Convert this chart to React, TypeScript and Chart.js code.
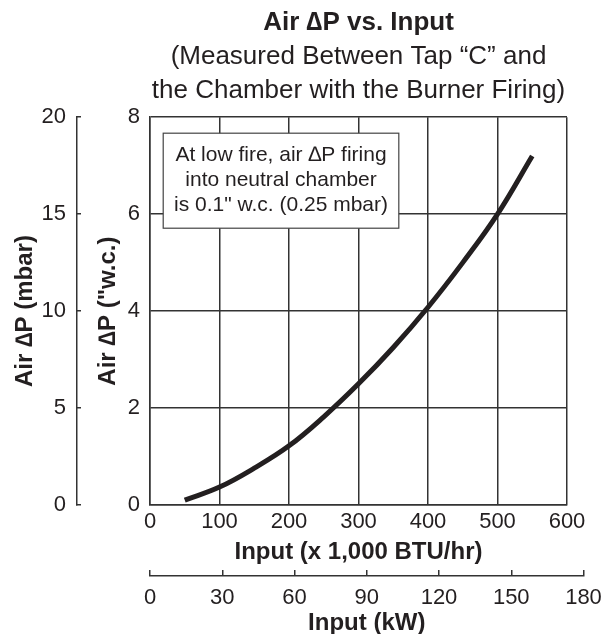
import React, { useEffect, useRef } from "react";
import { Chart, registerables } from "chart.js";

Chart.register(...registerables);

// ---------- data ----------
const inputBtu = [50, 100, 150, 200, 250, 300, 350, 400, 450, 500, 550];
const airDpWc = [0.1, 0.37, 0.76, 1.22, 1.82, 2.5, 3.25, 4.08, 5.0, 6.0, 7.2];

const btuTicks = [0, 100, 200, 300, 400, 500, 600];
const wcTicks = [0, 2, 4, 6, 8];
const mbarTicks = [0, 5, 10, 15, 20];
const kwTicks = [0, 30, 60, 90, 120, 150, 180];

const titleMain = "Air \u2206P vs. Input";
const titleSub = ["(Measured Between Tap \u201CC\u201D and", "the Chamber with the Burner Firing)"];
const xTitle = "Input (x 1,000 BTU/hr)";
const kwTitle = "Input (kW)";
const wcTitle = "Air \u2206P (\"w.c.)";
const mbarTitle = "Air \u2206P (mbar)";
const noteLines = ["At low fire, air \u2206P firing", "into neutral chamber", "is 0.1\" w.c. (0.25 mbar)"];

// ---------- style ----------
const FONT = "'Liberation Sans', Arial, Helvetica, sans-serif";
const INK = "#231f20";
const GRID = "#333333";
const GRID_W = 1.5;

const NOTE_BOX = { x0: 19, x1: 358, y0: 5.71, y1: 7.67 };

const setTicks = (vals: number[]) => (s: any) => {
  s.ticks = vals.map((v) => ({ value: v }));
};

const noteBoxPlugin = {
  id: "noteBox",
  beforeDatasetsDraw(chart: any) {
    const { ctx } = chart;
    const x = chart.scales.x;
    const y = chart.scales.y;
    const l = x.getPixelForValue(NOTE_BOX.x0);
    const r = x.getPixelForValue(NOTE_BOX.x1);
    const t = y.getPixelForValue(NOTE_BOX.y1);
    const b = y.getPixelForValue(NOTE_BOX.y0);
    ctx.save();
    ctx.fillStyle = "#ffffff";
    ctx.fillRect(l, t, r - l, b - t);
    ctx.strokeStyle = "#444444";
    ctx.lineWidth = 1.2;
    ctx.strokeRect(l, t, r - l, b - t);
    ctx.fillStyle = INK;
    ctx.font = `21px ${FONT}`;
    ctx.textAlign = "center";
    ctx.textBaseline = "middle";
    const cx = (l + r) / 2;
    const cy = (t + b) / 2;
    noteLines.forEach((s, i) => ctx.fillText(s, cx, cy + (i - 1) * 25));
    ctx.restore();
  },
};

export default function App() {
  const mainRef = useRef<HTMLCanvasElement | null>(null);
  const kwRef = useRef<HTMLCanvasElement | null>(null);

  useEffect(() => {
    if (!mainRef.current || !kwRef.current) return;
    const tickFont = { family: FONT, size: 22 };
    const titleFont = { family: FONT, size: 24, weight: "bold" as const, lineHeight: 1.2 };

    const main = new Chart(mainRef.current, {
      type: "line",
      data: {
        datasets: [
          {
            data: inputBtu.map((x, i) => ({ x, y: airDpWc[i] })),
            borderColor: INK,
            borderWidth: 5,
            pointRadius: 0,
            tension: 0.4,
            borderCapStyle: "butt",
            fill: false,
            xAxisID: "x",
            yAxisID: "y",
          },
        ],
      },
      options: {
        responsive: false,
        animation: false,
        layout: { padding: { left: 0, right: 35, top: 0, bottom: 67 } },
        plugins: {
          legend: { display: false },
          tooltip: { enabled: false },
          title: {
            display: true,
            text: titleMain,
            fullSize: false,
            color: INK,
            font: { family: FONT, size: 26, weight: "bold", lineHeight: 1.2 },
            padding: { top: 7, bottom: 0 },
          },
          subtitle: {
            display: true,
            text: titleSub,
            fullSize: false,
            color: INK,
            font: { family: FONT, size: 26, weight: "normal", lineHeight: 34 / 26 },
            padding: { top: 2, bottom: 9 },
          },
        },
        scales: {
          x: {
            type: "linear",
            position: "bottom",
            min: 0,
            max: 600,
            afterBuildTicks: setTicks(btuTicks),
            afterFit: (s: any) => {
              s.height = 62;
            },
            grid: { color: GRID, lineWidth: GRID_W, drawTicks: false },
            border: { color: GRID, width: GRID_W },
            ticks: { padding: 4, color: INK, font: tickFont, maxRotation: 0, autoSkip: false },
            title: { display: true, text: xTitle, color: INK, font: titleFont, padding: { top: 0, bottom: 0 } },
          },
          y: {
            type: "linear",
            position: "left",
            weight: 0,
            min: 0,
            max: 8,
            afterBuildTicks: setTicks(wcTicks),
            afterFit: (s: any) => {
              s.width = 73;
            },
            grid: { color: GRID, lineWidth: GRID_W, drawTicks: false },
            border: { color: GRID, width: GRID_W },
            ticks: { padding: 10, color: INK, font: tickFont, autoSkip: false },
            title: { display: true, text: wcTitle, color: INK, font: titleFont, padding: { top: 17, bottom: 0 } },
          },
          y2: {
            type: "linear",
            position: "left",
            weight: 1,
            min: 0,
            max: 20,
            afterBuildTicks: setTicks(mbarTicks),
            afterFit: (s: any) => {
              s.width = 77;
            },
            grid: { color: GRID, lineWidth: GRID_W, drawOnChartArea: false, drawTicks: true, tickLength: -4 },
            border: { display: true, color: GRID, width: GRID_W },
            ticks: { padding: 15, color: INK, font: tickFont, autoSkip: false },
            title: { display: true, text: mbarTitle, color: INK, font: titleFont, padding: { top: 11, bottom: 0 } },
          },
        },
      } as any,
      plugins: [noteBoxPlugin],
    });

    const kw = new Chart(kwRef.current, {
      type: "line",
      data: { datasets: [] },
      options: {
        responsive: false,
        animation: false,
        layout: { padding: { left: 150, right: 15, top: 10, bottom: 0 } },
        plugins: { legend: { display: false }, tooltip: { enabled: false } },
        scales: {
          x: {
            type: "linear",
            position: "bottom",
            min: 0,
            max: 180,
            afterBuildTicks: setTicks(kwTicks),
            afterFit: (s: any) => {
              s.height = 58;
              s.paddingRight = 18.5;
            },
            grid: { color: GRID, lineWidth: GRID_W, drawTicks: false, drawOnChartArea: true },
            border: { display: true, color: GRID, width: GRID_W },
            ticks: { padding: 9, color: INK, font: tickFont, maxRotation: 0, autoSkip: false },
            title: {
              display: true,
              text: kwTitle,
              color: INK,
              font: { family: FONT, size: 24, weight: "bold", lineHeight: 1.0 },
              padding: { top: 0, bottom: -1 },
            },
          },
          y: { display: false, min: 0, max: 1 },
        },
      } as any,
    });

    return () => {
      main.destroy();
      kw.destroy();
    };
  }, []);

  return (
    <div style={{ position: "fixed", left: 0, top: 0, width: 602, height: 634, background: "#ffffff" }}>
      <canvas
        ref={mainRef}
        width={602}
        height={634}
        style={{ position: "absolute", left: 0, top: 0, width: 602, height: 634 }}
      />
      <canvas
        ref={kwRef}
        width={602}
        height={74}
        style={{ position: "absolute", left: 0, top: 560, width: 602, height: 74 }}
      />
    </div>
  );
}
